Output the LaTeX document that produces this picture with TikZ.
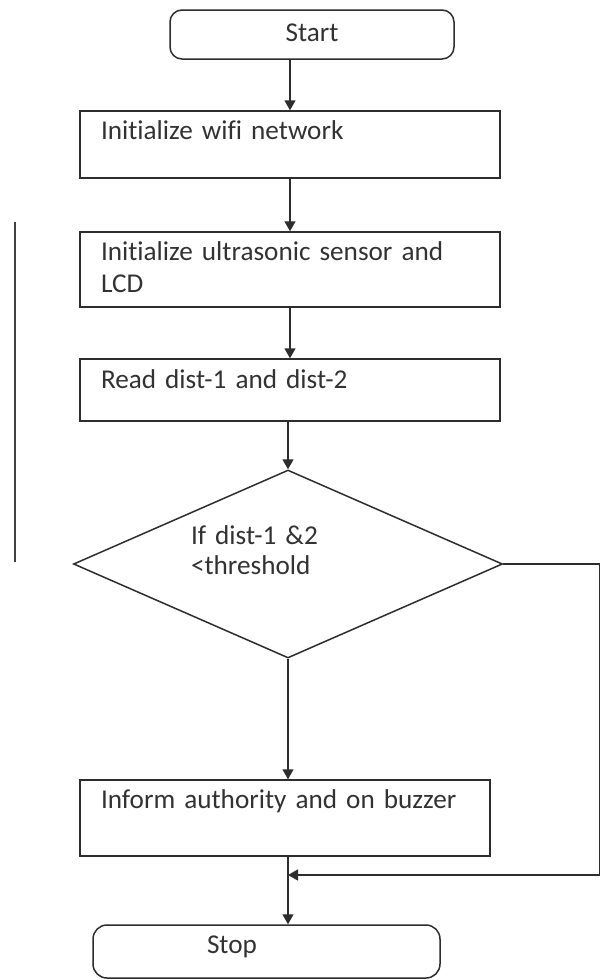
\documentclass[tikz,border=0pt]{standalone}
\usepackage{fontspec}
\setmainfont{Carlito}[Ligatures=NoCommon]
\usetikzlibrary{arrows.meta,shapes.geometric}
\definecolor{inkcol}{RGB}{50,50,50}
\definecolor{edgecol}{RGB}{45,45,45}
\tikzset{
  base/.style={draw=edgecol,line width=.75pt,text=inkcol,text height=10pt},
  term/.style={base,rectangle,rounded corners=6pt},
  stepbox/.style={base,rectangle,align=left,inner xsep=10.5pt,inner ysep=0pt},
  decide/.style={base,diamond,aspect=2.28,inner sep=1pt,align=left},
  flow/.style={-{Triangle[length=5pt,width=5.5pt]},draw=edgecol,line width=.75pt}
}
\begin{document}
\begin{tikzpicture}[x=.5pt,y=-.5pt,every node/.style={font=\fontsize{13.6pt}{16pt}\selectfont}]
\useasboundingbox (0,0) rectangle (600,980);
\node[term,minimum width=142pt,minimum height=24.5pt,text depth=3.5pt] (start) at (312,34.5) {Start};
\node[stepbox,text width=189pt,minimum height=33.5pt,text depth=15pt] (wifi) at (290,144.5) {Initialize wifi network};
\node[stepbox,text width=189pt,minimum height=37.5pt,text depth=19.5pt] (sensor) at (290,269.5) {Initialize ultrasonic sensor and\\LCD};
\node[stepbox,text width=189pt,minimum height=31pt,text depth=11.5pt] (readd) at (290,390) {Read dist-1 and dist-2};
\node[decide,text width=97pt,minimum width=214.5pt,minimum height=94pt,text depth=30pt] (test) at (288,564) {If dist-1 \&2\\[-1pt]<threshold};
\node[stepbox,text width=184pt,minimum height=38pt,text depth=19.5pt] (inform) at (285,818) {Inform authority and on buzzer};
\node[term,rounded corners=7pt,align=left,inner xsep=57pt,inner ysep=0pt,text width=59.5pt,minimum height=26.5pt,text depth=8pt] (stop) at (266.5,951.5) {Stop};
\coordinate (join) at (test.south |- 0,875);
\draw[flow] (start.south -| wifi.north) -- (wifi.north);
\draw[flow] (wifi) -- (sensor);
\draw[flow] (sensor) -- (readd);
\draw[flow] (readd.south -| test.north) -- (test.north);
\draw[flow] (test.south) -- (test.south |- inform.north);
\draw[flow] (inform.south -| test.south) -- (stop.north -| test.south);
\draw[flow] (test.east) -- ++(96,0) |- (join);
\draw[line width=.6pt,black!75] (15,222) -- (15,562);
\end{tikzpicture}
\end{document}
